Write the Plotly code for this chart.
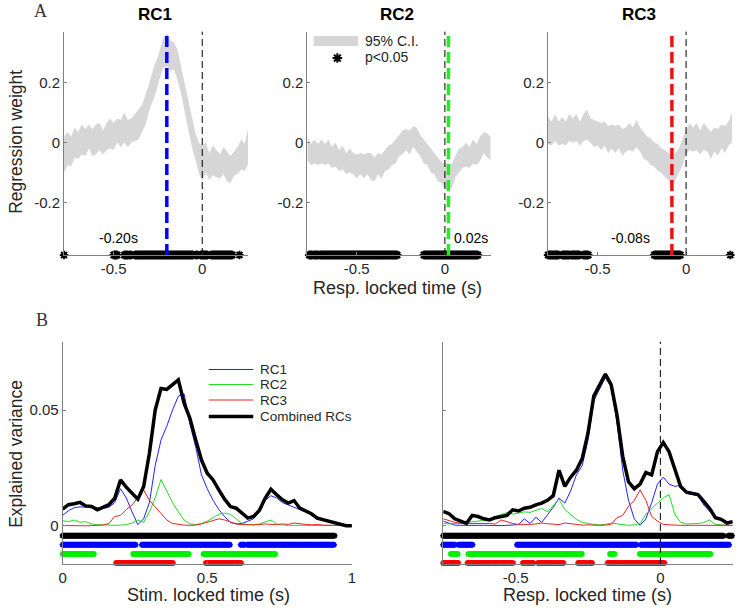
import numpy as np
import plotly.graph_objects as go

# ---------------- A: regression weights, response locked ----------------
t_top = np.round(np.arange(-0.78, 0.2601, 0.02), 2)

rc_names = ['RC1', 'RC2', 'RC3']
rc_colors = ['#0000ff', '#22ee22', '#ee1111']
peak_times = [-0.20, 0.02, -0.08]
peak_labels = ['-0.20s', '0.02s', '-0.08s']

rc1_mean = [-0.04, -0.02, -0.03, 0.00, -0.01, 0.01, 0.00, 0.02, 0.00, 0.01,
            0.02, 0.00, 0.02, 0.03, 0.02, 0.04, 0.03, 0.05, 0.03, 0.04,
            0.05, 0.06, 0.08, 0.11, 0.15, 0.19, 0.22, 0.26, 0.30, 0.31,
            0.29, 0.29, 0.26, 0.21, 0.15, 0.09, 0.04, -0.01, -0.05, -0.07,
            -0.05, -0.08, -0.06, -0.07, -0.08, -0.06, -0.08, -0.09, -0.07, -0.06,
            -0.04, -0.05, -0.01]
rc2_mean = [-0.02, -0.04, -0.03, -0.04, -0.03, -0.04, -0.03, -0.05, -0.04, -0.06,
            -0.05, -0.07, -0.06, -0.07, -0.08, -0.07, -0.08, -0.07, -0.08, -0.09,
            -0.07, -0.08, -0.06, -0.05, -0.04, -0.03, -0.01, 0.00, 0.01, 0.00,
            0.02, 0.01, -0.01, -0.03, -0.04, -0.06, -0.07, -0.09, -0.10, -0.11,
            -0.12, -0.11, -0.08, -0.06, -0.05, -0.04, -0.05, -0.03, -0.04, -0.02,
            0.00, -0.01, -0.02]
rc3_mean = [0.04, 0.03, 0.05, 0.03, 0.04, 0.03, 0.05, 0.04, 0.05, 0.03,
            0.05, 0.06, 0.04, 0.03, 0.03, 0.02, 0.03, 0.01, 0.02, 0.01,
            0.02, 0.00, 0.01, 0.02, 0.01, 0.03, 0.01, -0.01, -0.02, -0.03,
            -0.04, -0.05, -0.06, -0.07, -0.08, -0.09, -0.08, -0.06, -0.03, 0.00,
            0.02, 0.01, 0.02, 0.00, 0.02, 0.01, -0.01, 0.01, 0.00, 0.02,
            0.01, 0.03, 0.05]

rc1_ci = [0.060, 0.055, 0.050, 0.050, 0.045, 0.050, 0.045, 0.040, 0.045, 0.050,
          0.045, 0.040, 0.045, 0.050, 0.045, 0.040, 0.045, 0.050, 0.045, 0.040,
          0.045, 0.050, 0.045, 0.050, 0.045, 0.050, 0.050, 0.045, 0.050, 0.055,
          0.050, 0.045, 0.050, 0.045, 0.050, 0.045, 0.050, 0.045, 0.050, 0.060,
          0.050, 0.045, 0.050, 0.045, 0.040, 0.045, 0.050, 0.045, 0.040, 0.045,
          0.050, 0.045, 0.060]
rc2_ci = [0.040, 0.035, 0.040, 0.035, 0.040, 0.035, 0.040, 0.035, 0.040, 0.035,
          0.040, 0.035, 0.040, 0.035, 0.040, 0.035, 0.040, 0.035, 0.045, 0.040,
          0.035, 0.040, 0.035, 0.040, 0.035, 0.040, 0.035, 0.040, 0.035, 0.040,
          0.035, 0.040, 0.035, 0.040, 0.035, 0.040, 0.035, 0.040, 0.035, 0.040,
          0.045, 0.040, 0.035, 0.040, 0.035, 0.040, 0.035, 0.040, 0.035, 0.040,
          0.035, 0.040, 0.040]
rc3_ci = [0.045, 0.040, 0.045, 0.040, 0.045, 0.040, 0.045, 0.040, 0.045, 0.040,
          0.045, 0.050, 0.040, 0.045, 0.040, 0.045, 0.040, 0.045, 0.040, 0.045,
          0.040, 0.045, 0.040, 0.045, 0.040, 0.045, 0.040, 0.045, 0.040, 0.045,
          0.040, 0.045, 0.040, 0.045, 0.045, 0.050, 0.045, 0.040, 0.045, 0.040,
          0.045, 0.040, 0.045, 0.040, 0.045, 0.040, 0.045, 0.040, 0.045, 0.040,
          0.045, 0.040, 0.050]

# significant stretches (p<0.05), start / end times
rc1_sig_start = [-0.78, -0.50, -0.44, -0.41, -0.38, -0.035, -0.01, 0.05, 0.21]
rc1_sig_end = [-0.78, -0.48, -0.42, -0.40, -0.05, -0.025, 0.03, 0.17, 0.21]
rc2_sig_start = [-0.77, -0.74, -0.71, -0.12]
rc2_sig_end = [-0.75, -0.72, -0.27, 0.19]
rc3_sig_start = [-0.78, -0.70, -0.65, -0.58, -0.18, 0.25]
rc3_sig_end = [-0.72, -0.66, -0.60, -0.55, -0.03, 0.25]

# ---------------- B: explained variance ----------------
t_stim = np.round(np.arange(0, 1.0001, 0.02), 2)
t_resp = np.round(np.arange(-0.75, 0.2501, 0.02), 2)

stim_rc1 = [0.0045, 0.0065, 0.0078, 0.0082, 0.0080, 0.0083, 0.0078, 0.0075, 0.0080, 0.0100,
            0.0160, 0.0120, 0.0060, 0.0005, 0.0030, 0.0100, 0.0260, 0.0370, 0.0430, 0.0500,
            0.0560, 0.0570, 0.0440, 0.0340, 0.0220, 0.0160, 0.0110, 0.0070, 0.0040, 0.0015,
            0.0008, 0.0010, 0.0020, 0.0030, 0.0060, 0.0110, 0.0130, 0.0120, 0.0100, 0.0090,
            0.0080, 0.0070, 0.0060, 0.0050, 0.0040, 0.0030, 0.0020, 0.0015, 0.0008, 0.0004,
            0.0000]
stim_rc2 = [0.0022, 0.0018, 0.0025, 0.0015, 0.0018, 0.0008, 0.0005, 0.0003, 0.0002, 0.0002,
            0.0003, 0.0005, 0.0012, 0.0025, 0.0015, 0.0060, 0.0120, 0.0200, 0.0150, 0.0100,
            0.0060, 0.0025, 0.0008, 0.0005, 0.0010, 0.0020, 0.0035, 0.0050, 0.0055, 0.0050,
            0.0030, 0.0010, 0.0005, 0.0004, 0.0008, 0.0018, 0.0025, 0.0008, 0.0003, 0.0002,
            0.0002, 0.0003, 0.0002, 0.0002, 0.0003, 0.0002, 0.0002, 0.0001, 0.0001, 0.0001,
            0.0001]
stim_rc3 = [0.0001, 0.0000, 0.0001, 0.0000, 0.0000, 0.0001, 0.0002, 0.0003, 0.0010, 0.0040,
            0.0045, 0.0070, 0.0090, 0.0120, 0.0155, 0.0110, 0.0080, 0.0050, 0.0025, 0.0010,
            0.0005, 0.0003, 0.0002, 0.0003, 0.0008, 0.0015, 0.0020, 0.0030, 0.0025, 0.0015,
            0.0008, 0.0005, 0.0003, 0.0004, 0.0005, 0.0008, 0.0006, 0.0005, 0.0008, 0.0006,
            0.0012, 0.0008, 0.0006, 0.0004, 0.0006, 0.0003, 0.0002, 0.0001, 0.0000, 0.0000,
            0.0000]
stim_all = [0.0072, 0.0091, 0.0095, 0.0101, 0.0086, 0.0083, 0.0069, 0.0080, 0.0091, 0.0119,
            0.0198, 0.0167, 0.0141, 0.0115, 0.0170, 0.0313, 0.0500, 0.0593, 0.0589, 0.0608,
            0.0630, 0.0529, 0.0464, 0.0371, 0.0284, 0.0227, 0.0198, 0.0155, 0.0115, 0.0083,
            0.0076, 0.0055, 0.0033, 0.0040, 0.0066, 0.0119, 0.0158, 0.0134, 0.0112, 0.0098,
            0.0109, 0.0076, 0.0062, 0.0052, 0.0033, 0.0026, 0.0019, 0.0014, 0.0004, 0.0000,
            0.0000]

resp_rc1 = [0.0020, 0.0010, 0.0003, 0.0002, 0.0003, 0.0002, 0.0002, 0.0002, 0.0001, 0.0002,
            0.0001, 0.0002, 0.0002, 0.0005, 0.0030, 0.0010, 0.0037, 0.0015, 0.0047, 0.0080,
            0.0120, 0.0098, 0.0150, 0.0220, 0.0260, 0.0370, 0.0540, 0.0590, 0.0640, 0.0600,
            0.0450, 0.0240, 0.0110, 0.0030, 0.0002, 0.0030, 0.0100, 0.0180, 0.0210, 0.0180,
            0.0170, 0.0175, 0.0140, 0.0135, 0.0130, 0.0090, 0.0060, 0.0035, 0.0025, 0.0015,
            0.0012]
resp_rc2 = [0.0010, 0.0008, 0.0010, 0.0012, 0.0015, 0.0018, 0.0020, 0.0025, 0.0030, 0.0040,
            0.0048, 0.0057, 0.0050, 0.0055, 0.0060, 0.0058, 0.0068, 0.0075, 0.0060, 0.0090,
            0.0115, 0.0070, 0.0050, 0.0028, 0.0015, 0.0010, 0.0006, 0.0004, 0.0006, 0.0012,
            0.0008, 0.0004, 0.0002, 0.0004, 0.0010, 0.0050, 0.0075, 0.0098, 0.0120, 0.0135,
            0.0050, 0.0015, 0.0008, 0.0008, 0.0010, 0.0014, 0.0025, 0.0006, 0.0003, 0.0002,
            0.0001]
resp_rc3 = [0.0030, 0.0022, 0.0015, 0.0010, 0.0010, 0.0012, 0.0010, 0.0012, 0.0010, 0.0008,
            0.0025, 0.0018, 0.0010, 0.0006, 0.0005, 0.0006, 0.0008, 0.0012, 0.0009, 0.0006,
            0.0005, 0.0012, 0.0009, 0.0005, 0.0003, 0.0004, 0.0002, 0.0002, 0.0003, 0.0006,
            0.0035, 0.0045, 0.0085, 0.0110, 0.0155, 0.0110, 0.0040, 0.0020, 0.0006, 0.0003,
            0.0003, 0.0002, 0.0002, 0.0002, 0.0002, 0.0002, 0.0002, 0.0002, 0.0002, 0.0002,
            0.0002]
resp_all = [0.0062, 0.0052, 0.0030, 0.0020, 0.0010, 0.0045, 0.0040, 0.0030, 0.0025, 0.0035,
            0.0040, 0.0045, 0.0069, 0.0064, 0.0076, 0.0080, 0.0090, 0.0098, 0.0110, 0.0130,
            0.0240, 0.0170, 0.0210, 0.0240, 0.0290, 0.0400, 0.0560, 0.0610, 0.0655, 0.0610,
            0.0480, 0.0300, 0.0190, 0.0160, 0.0180, 0.0230, 0.0220, 0.0320, 0.0360, 0.0320,
            0.0240, 0.0170, 0.0145, 0.0140, 0.0135, 0.0105, 0.0075, 0.0035, 0.0028, 0.0012,
            0.0018]

# significant stretches for B (rows: combined, RC1, RC2, RC3)
stim_sig = [
    ([0.0], [0.943]),
    ([0.0, 0.274, 0.616, 0.638], [0.255, 0.581, 0.629, 0.94]),
    ([0.0, 0.244, 0.487], [0.11, 0.438, 0.738]),
    ([0.185, 0.495, 0.597], [0.381, 0.593, 0.618]),
]
resp_sig = [
    ([-0.75, 0.235], [0.221, 0.249]),
    ([-0.75, -0.697, -0.495, -0.067], [-0.709, -0.647, -0.08, 0.24]),
    ([-0.724, -0.663, -0.174, -0.071], [-0.697, -0.271, -0.157, 0.176]),
    ([-0.75, -0.666, -0.475, -0.423, -0.284, -0.248, -0.182],
     [-0.695, -0.51, -0.436, -0.332, -0.256, -0.233, 0.015]),
]

SAMPLE = 0.004


def sig_times(starts, ends):
    pts = [np.arange(s, e + 1e-9, SAMPLE) for s, e in zip(starts, ends)]
    return np.concatenate(pts)


FONT = 'Liberation Sans, Arial, sans-serif'
TXT = '#262626'
AX = '#808080'

fig = go.Figure()

# ---- panel A traces ----
means = [rc1_mean, rc2_mean, rc3_mean]
cis = [rc1_ci, rc2_ci, rc3_ci]
sigs = [(rc1_sig_start, rc1_sig_end), (rc2_sig_start, rc2_sig_end), (rc3_sig_start, rc3_sig_end)]
Y_TOP = [-0.375, 0.37]
for i in range(3):
    xa = 'x' if i == 0 else 'x%d' % (i + 1)
    ya = 'y' if i == 0 else 'y%d' % (i + 1)
    m = np.array(means[i])
    c = np.array(cis[i])
    fig.add_trace(go.Scatter(x=t_top, y=m + c, mode='lines', line=dict(width=0),
                             xaxis=xa, yaxis=ya, showlegend=False, hoverinfo='skip'))
    fig.add_trace(go.Scatter(x=t_top, y=m - c, mode='lines', line=dict(width=0),
                             fill='tonexty', fillcolor='#d6d6d6',
                             xaxis=xa, yaxis=ya, showlegend=False))
    ts = sig_times(*sigs[i])
    fig.add_trace(go.Scatter(x=ts, y=[Y_TOP[0]] * len(ts), mode='markers',
                             marker=dict(symbol='asterisk-open', size=7, color='black',
                                         line=dict(width=2, color='black')),
                             cliponaxis=False, xaxis=xa, yaxis=ya, showlegend=False))
    # zero line and peak line
    fig.add_shape(type='line', xref=xa, yref=ya + ' domain', x0=0, x1=0, y0=0, y1=1,
                  line=dict(color='black', width=1, dash='7px,4px'))
    fig.add_shape(type='line', xref=xa, yref=ya + ' domain', x0=peak_times[i], x1=peak_times[i],
                  y0=0, y1=1, line=dict(color=rc_colors[i], width=3.5, dash='11px,5px'))

# legend key marker for panel A (p<0.05)
fig.add_trace(go.Scatter(x=[-0.61], y=[0.282], mode='markers',
                         marker=dict(symbol='asterisk-open', size=8, color='black',
                                     line=dict(width=2, color='black')),
                         xaxis='x2', yaxis='y2', showlegend=False))

# ---- panel B traces ----
Y_BOT = [-0.0165, 0.0795]
row_y = [-0.0043, -0.0082, -0.0122, -0.0161]
row_colors = ['black', '#0000ff', '#00ee00', '#ff0000']
line_colors = ['#2222ff', '#22dd22', '#ee2222']
for xa, ya, t, comps, comb, sig in [
        ('x4', 'y4', t_stim, [stim_rc1, stim_rc2, stim_rc3], stim_all, stim_sig),
        ('x5', 'y5', t_resp, [resp_rc1, resp_rc2, resp_rc3], resp_all, resp_sig)]:
    for k in range(3):
        fig.add_trace(go.Scatter(x=t, y=comps[k], mode='lines',
                                 line=dict(color=line_colors[k], width=1),
                                 xaxis=xa, yaxis=ya, showlegend=False))
    fig.add_trace(go.Scatter(x=t, y=comb, mode='lines', line=dict(color='black', width=3.5),
                             xaxis=xa, yaxis=ya, showlegend=False))
    for r in range(4):
        ts = sig_times(*sig[r])
        fig.add_trace(go.Scatter(x=ts, y=[row_y[r]] * len(ts), mode='markers',
                                 marker=dict(symbol='asterisk-open', size=5, color=row_colors[r],
                                             line=dict(width=1.6, color=row_colors[r])),
                                 cliponaxis=False, xaxis=xa, yaxis=ya, showlegend=False))

fig.add_shape(type='line', xref='x5', yref='y5 domain', x0=0, x1=0, y0=0, y1=1,
              line=dict(color='black', width=1, dash='7px,4px'))

# ---- axes ----
base = dict(showline=True, linecolor=AX, linewidth=1, ticks='inside', ticklen=3,
            tickcolor=AX, showgrid=False, zeroline=False,
            tickfont=dict(family=FONT, size=15, color=TXT))
top_dom = [0.5813, 0.948]
bot_dom = [0.0739, 0.4389]
layout = dict(
    xaxis=dict(base, domain=[0.0819, 0.3333], range=[-0.78, 0.26], anchor='y',
               tickvals=[-0.5, 0], ticktext=['-0.5', '0']),
    yaxis=dict(base, domain=top_dom, range=Y_TOP, anchor='x',
               tickvals=[-0.2, 0, 0.2], ticktext=['-0.2', '0', '0.2']),
    xaxis2=dict(base, domain=[0.4139, 0.6640], range=[-0.78, 0.26], anchor='y2',
                tickvals=[-0.5, 0], ticktext=['-0.5', '0']),
    yaxis2=dict(base, domain=top_dom, range=Y_TOP, anchor='x2',
                tickvals=[-0.2, 0, 0.2], ticktext=['-0.2', '0', '0.2']),
    xaxis3=dict(base, domain=[0.7422, 0.9933], range=[-0.78, 0.26], anchor='y3',
                tickvals=[-0.5, 0], ticktext=['-0.5', '0']),
    yaxis3=dict(base, domain=top_dom, range=Y_TOP, anchor='x3',
                tickvals=[-0.2, 0, 0.2], ticktext=['-0.2', '0', '0.2']),
    xaxis4=dict(base, domain=[0.0800, 0.4746], range=[0, 1], anchor='y4',
                tickvals=[0, 0.5, 1], ticktext=['0', '0.5', '1']),
    yaxis4=dict(base, domain=bot_dom, range=Y_BOT, anchor='x4',
                tickvals=[0, 0.05], ticktext=['0', '0.05']),
    xaxis5=dict(base, domain=[0.5992, 0.9942], range=[-0.75, 0.25], anchor='y5',
                tickvals=[-0.5, 0], ticktext=['-0.5', '0']),
    yaxis5=dict(base, domain=bot_dom, range=Y_BOT, anchor='x5',
                tickvals=[0, 0.05], showticklabels=False),
)


def px_x(p):
    return p / 741.0


def px_y(p):
    return 1 - p / 609.0


ann = []


def label(text, x, y, size=13, xanchor='center', bold=False, angle=0, family=FONT, color=TXT):
    ann.append(dict(text='<b>%s</b>' % text if bold else text, x=px_x(x), y=px_y(y),
                    xref='paper', yref='paper', showarrow=False, xanchor=xanchor,
                    yanchor='middle', textangle=angle,
                    font=dict(family=family, size=size, color=color)))


label('A', 37, 11, size=18, family='Liberation Serif, serif', color='#333333')
label('B', 38, 320, size=18, family='Liberation Serif, serif', color='#333333')
for name, xc in zip(rc_names, [153, 397, 642]):
    label(name, xc, 15, size=17, bold=True, color='black')
label('Regression weight', 12, 142, size=17.5, angle=-90)
label('Explained variance', 12, 454, size=17.5, angle=-90)
label('Resp. locked time (s)', 398, 288, size=18)
label('Stim. locked time (s)', 207, 595, size=18)
label('Resp. locked time (s)', 590, 595, size=18)

# peak time labels (data coordinates)
for i, (xl, txt) in enumerate(zip([-0.47, 0.146, -0.316], peak_labels)):
    xa = 'x' if i == 0 else 'x%d' % (i + 1)
    ya = 'y' if i == 0 else 'y%d' % (i + 1)
    ann.append(dict(text=txt, x=xl, y=-0.318, xref=xa, yref=ya, showarrow=False,
                    font=dict(family=FONT, size=14, color='black')))

# legend of panel A
fig.add_shape(type='rect', xref='paper', yref='paper', x0=px_x(313), x1=px_x(358),
              y0=px_y(46), y1=px_y(36), fillcolor='#d6d6d6', line=dict(width=0))
label('95% C.I.', 363, 41, size=14, xanchor='left')
label('p<0.05', 363, 57, size=14, xanchor='left')

# legend of panel B
leg_items = ['RC1', 'RC2', 'RC3', 'Combined RCs']
leg_cols = line_colors + ['black']
leg_w = [1, 1, 1, 3.5]
for k, yy in enumerate([369.5, 384.5, 400, 416.5]):
    fig.add_shape(type='line', xref='paper', yref='paper', x0=px_x(207), x1=px_x(252),
                  y0=px_y(yy), y1=px_y(yy), line=dict(color=leg_cols[k], width=leg_w[k]))
    label(leg_items[k], 257, yy, size=13.5, xanchor='left')

fig.update_layout(layout)
fig.update_layout(width=741, height=609, autosize=False,
                  margin=dict(l=0, r=0, t=0, b=0),
                  paper_bgcolor='white', plot_bgcolor='white',
                  annotations=ann, showlegend=False)

# the page body has a default 8px margin; drop it so the figure fills the window
fig.write_html('out.html', config={'displayModeBar': False},
               post_script="document.body.style.margin='0';")
